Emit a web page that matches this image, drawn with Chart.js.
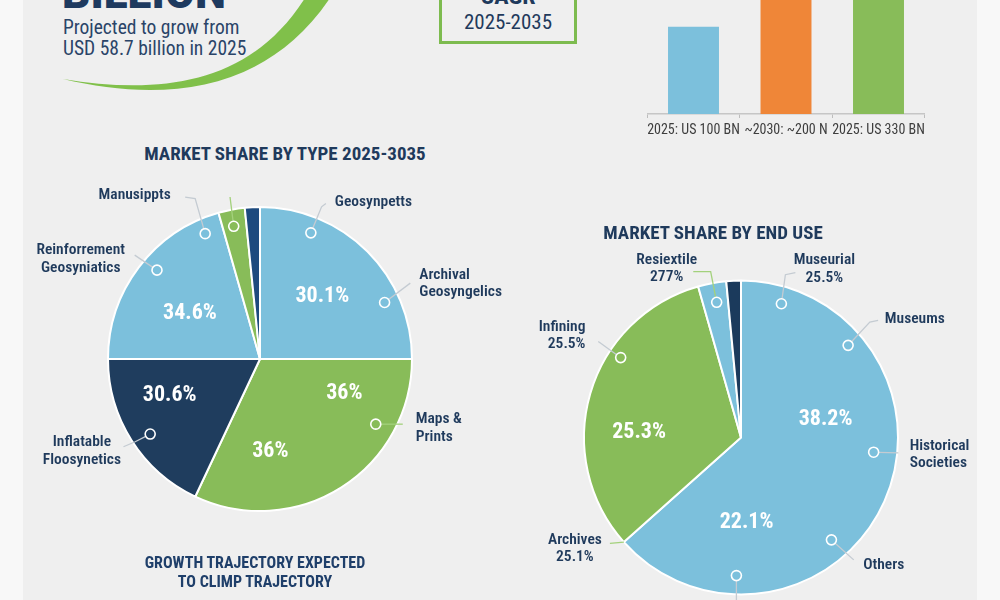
<!DOCTYPE html>
<html>
<head>
<meta charset="UTF-8">
<title>Market share infographic</title>
<style>
  body { margin:0; width:1000px; height:600px; overflow:hidden; background:#f8f8f8; position:relative;
         font-family:"Roboto Condensed","Liberation Sans Narrow","DejaVu Sans Condensed",Roboto,sans-serif; color:#1f3a5c; }
  #panel { position:absolute; left:23px; top:0; width:954px; height:600px; background:#efefef; }
  .txt { position:absolute; white-space:nowrap; }
  .ctr { width:400px; text-align:center; }
  canvas { position:absolute; }
</style>
</head>
<body>
<div id="panel"></div>

<!-- green swoosh under the headline -->
<svg style="position:absolute;left:0;top:0" width="400" height="120">
  <path d="M63 79 C160 102 265 95 330 -2 L305 -2 C250 85 160 95 63 79 Z" fill="#80c04a"/>
</svg>

<div class="txt" style="left:62px;top:-29px;font:900 44px/44px Roboto,sans-serif;color:#1e3a5f;">BILLION</div>
<div class="txt" style="left:63px;top:17px;font-size:19.5px;line-height:21px;color:#2a4468;">Projected to grow from<br>USD 58.7 billion in 2025</div>

<div style="position:absolute;left:439px;top:-20px;width:138px;height:64px;border:3px solid #7dbb4f;box-sizing:border-box;"></div>
<div class="txt ctr" style="left:308px;top:-16px;font-weight:700;font-size:24px;line-height:24px;">CAGR</div>
<div class="txt ctr" style="left:308px;top:10px;font-size:21px;line-height:24px;">2025-2035</div>

<canvas id="barChart" width="360" height="384" style="left:600px;top:-240px"></canvas>
<canvas id="typePie" width="500" height="420" style="left:23px;top:170px"></canvas>
<canvas id="usePie" width="477" height="360" style="left:500px;top:240px"></canvas>

<div class="txt ctr" style="left:85px;top:143px;font-weight:700;font-size:19px;line-height:22px;">MARKET SHARE BY TYPE 2025-3035</div>
<div class="txt ctr" style="left:513px;top:222px;font-weight:700;font-size:19px;line-height:22px;">MARKET SHARE BY END USE</div>
<div class="txt ctr" style="left:55px;top:553px;font-weight:700;font-size:16px;line-height:19px;color:#1f3f6a;">GROWTH TRAJECTORY EXPECTED<br>TO CLIMP TRAJECTORY</div>

<script src="https://cdn.jsdelivr.net/npm/chart.js/dist/chart.umd.min.js"></script>
<script>
  // ---------- data ----------
  const barLabels = ['2025: US 100 BN', '~2030: ~200 N', '2025: US 330 BN'];
  const barValues = [100, 200, 330];

  const typeLabels = ['Geosynpetts', 'Maps & Prints', 'Inflatable Floosynetics', 'Reinforrement Geosyniatics', 'Manusippts', 'Other'];
  const typeShares = [25, 32, 18, 20.6, 2.8, 1.6];
  const typePctText = ['30.1%', '36%', '36%', '30.6%', '34.6%'];
  const typeCallouts = ['Geosynpetts', 'Archival\nGeosyngelics', 'Maps &\nPrints', 'Inflatable\nFloosynetics', 'Reinforrement\nGeosyniatics', 'Manusippts', ''];

  const useLabels = ['Museums', 'Infining', 'Resiextile', 'Other'];
  const useShares = [63.4, 32.2, 2.9, 1.5];
  const usePctText = ['38.2%', '22.1%', '25.3%'];
  const useCallouts = ['Museurial\n25.5%', 'Museums', 'Historical\nSocieties', 'Others', '', 'Infining\n25.5%', 'Resiextile\n277%', 'Archives\n25.1%'];

  // ---------- colours ----------
  const BLUE = '#7cc0dc', GREEN = '#88bc59', NAVY = '#1f3d5e', ORANGE = '#ef8638', DEEP = '#1d4a7e';
  const FONT = '"Roboto Condensed","Liberation Sans Narrow","DejaVu Sans Condensed",Roboto,sans-serif';
  const LINE = '#c4cbd2';

  // where each label / marker sits on its slice (slice index, fraction of the slice angle, fraction of radius)
  const typePctPos = [{s:0,f:0.5,r:0.58}, {s:1,f:0.195,r:0.6}, {s:1,f:0.726,r:0.61}, {s:2,f:0.664,r:0.64}, {s:3,f:0.446,r:0.55}];
  const typeCalloutPos = [
    {s:0,f:0.244,r:0.895, path:[[10.7,-26],[15,-29.4]], at:[24,-30.7], align:'left'},
    {s:0,f:0.729,r:0.9, path:[[25.7,-19.4]], at:[34.7,-27.7], align:'left'},
    {s:1,f:0.255,r:0.874, path:[[27,0]], at:[40,-5], align:'left', color:'#a3d17c'},
    {s:2,f:0.47,r:0.875, path:[[-15,7.7],[-26.7,12.7]], at:[-68.3,8], align:'center'},
    {s:3,f:0.55,r:0.895, path:[[-22.3,-15]], at:[-76.3,-20], align:'center'},
    {s:3,f:0.895,r:0.9, path:[[-10,-35],[-20,-36.6]], at:[-70.5,-39], align:'center'},
    {s:4,f:0.46,r:0.89, path:[[-3.7,-29.3]], at:[0,0], align:'center', color:'#a3d17c'}
  ];
  const usePctPos = [{s:0,f:0.343,r:0.55}, {s:0,f:0.772,r:0.54}, {s:1,f:0.385,r:0.65}];
  const useCalloutPos = [
    {s:0,f:0.0736,r:0.89, path:[[4,-29],[14,-31]], at:[43,-43.3], align:'center'},
    {s:0,f:0.216,r:0.9, path:[[21.7,-23.3],[30,-25]], at:[36.7,-26.7], align:'left'},
    {s:0,f:0.422,r:0.85, path:[[24.7,0.7]], at:[36,-6.3], align:'left'},
    {s:0,f:0.607,r:0.87, path:[[22.3,20]], at:[31.7,25], align:'left'},
    {s:0,f:0.797,r:0.88, path:[[0,30]], at:[0,0], align:'center'},
    {s:1,f:0.65,r:0.92, path:[[-22.4,-16]], at:[-35.2,-30.7], align:'right'},
    {s:2,f:0.54,r:0.875, path:[[-6,-30.6],[-23.4,-30.6]], at:[-50,-42.3], align:'center', color:'#a3d17c'},
    {s:1,f:0,r:1, path:[[-14,1.3]], at:[-49,-2.4], align:'center', noCircle:true, color:'#a3d17c'}
  ];

  // draws the % labels and the ring-marker callouts on a pie
  const calloutPlugin = {
    id: 'callouts',
    afterDatasetsDraw(chart, args, o) {
      const ctx = chart.ctx;
      const arcs = chart.getDatasetMeta(0).data;
      const at = (p) => {
        const a = arcs[p.s];
        const ang = a.startAngle + (a.endAngle - a.startAngle) * p.f;
        return [a.x + Math.cos(ang) * a.outerRadius * p.r, a.y + Math.sin(ang) * a.outerRadius * p.r];
      };
      ctx.save();
      // percentages
      ctx.fillStyle = '#fff';
      ctx.font = '700 22px ' + FONT;
      ctx.textAlign = 'center';
      ctx.textBaseline = 'middle';
      o.pctPos.forEach((p, i) => {
        const [x, y] = at(p);
        ctx.fillText(o.pctText[i], x, y);
      });
      // callouts
      o.calloutPos.forEach((p, i) => {
        const [x, y] = at(p);
        const R = 5;
        const [dx, dy] = p.path[0];
        const d = Math.hypot(dx, dy);
        ctx.strokeStyle = p.color || LINE;
        ctx.lineWidth = 1.3;
        ctx.beginPath();
        if (p.noCircle) ctx.moveTo(x, y); else ctx.moveTo(x + dx / d * R, y + dy / d * R);
        p.path.forEach(q => ctx.lineTo(x + q[0], y + q[1]));
        ctx.stroke();
        if (!p.noCircle) {
          ctx.strokeStyle = '#fff';
          ctx.lineWidth = 1.6;
          ctx.beginPath();
          ctx.arc(x, y, R, 0, Math.PI * 2);
          ctx.stroke();
        }
        const text = o.callouts[i];
        if (!text) return;
        ctx.fillStyle = '#1f3a5c';
        ctx.font = '600 15.5px ' + FONT;
        ctx.textAlign = p.align;
        text.split('\n').forEach((line, k) => {
          ctx.fillText(line, x + p.at[0], y + p.at[1] + k * 17.6);
        });
      });
      ctx.restore();
    }
  };

  // ---------- bar chart (top right, runs off the top of the page) ----------
  new Chart(document.getElementById('barChart'), {
    type: 'bar',
    data: {
      labels: barLabels,
      datasets: [{ data: barValues, backgroundColor: [BLUE, ORANGE, GREEN], barPercentage: 0.551, categoryPercentage: 1 }]
    },
    options: {
      responsive: false,
      animation: false,
      layout: { padding: { left: 47.25, right: 35.25, top: 5, bottom: 0 } },
      plugins: { legend: { display: false }, tooltip: { enabled: false } },
      scales: {
        x: {
          afterFit: s => { s.height = 30; },
          grid: { drawOnChartArea: false, drawTicks: true, tickLength: 4, color: '#bdbdbd', offset: true },
          border: { display: true, color: '#c6c6c6', width: 1.5 },
          ticks: { color: '#3e3e3e', font: { family: FONT, size: 14 }, padding: 4, maxRotation: 0, minRotation: 0, autoSkip: false }
        },
        y: { display: false, min: 0, max: 400 }
      }
    }
  });

  // ---------- pies ----------
  function pie(id, labels, values, colors, padding, pctText, pctPos, callouts, calloutPos) {
    new Chart(document.getElementById(id), {
      type: 'pie',
      data: { labels: labels, datasets: [{ data: values, backgroundColor: colors, borderColor: '#fff', borderWidth: 2 }] },
      options: {
        responsive: false,
        animation: false,
        layout: { padding: padding },
        plugins: {
          legend: { display: false }, tooltip: { enabled: false },
          callouts: { pctText: pctText, pctPos: pctPos, callouts: callouts, calloutPos: calloutPos }
        }
      },
      plugins: [calloutPlugin]
    });
  }

  pie('typePie', typeLabels, typeShares, [BLUE, GREEN, NAVY, BLUE, GREEN, DEEP],
      { left: 84, right: 110, top: 36, bottom: 78 }, typePctText, typePctPos, typeCallouts, typeCalloutPos);
  pie('usePie', useLabels, useShares, [BLUE, GREEN, BLUE, '#1b3a5c'],
      { left: 83, right: 78, top: 39.5, bottom: 4.5 }, usePctText, usePctPos, useCallouts, useCalloutPos);
</script>
</body>
</html>
